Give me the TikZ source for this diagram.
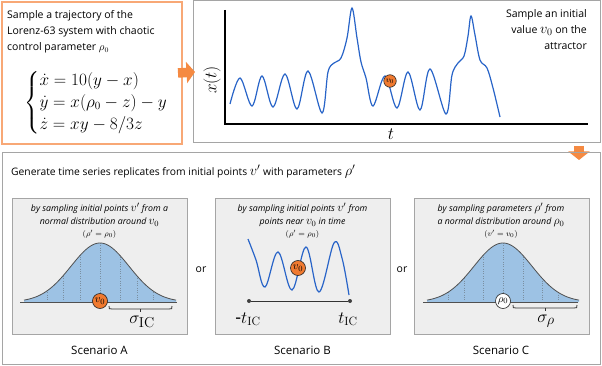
\documentclass[tikz,border=0pt]{standalone}
\usepackage{amsmath}
\usepackage[no-math]{fontspec}
\setmainfont{Open Sans}
\usetikzlibrary{arrows.meta}
\definecolor{orA}{RGB}{245,138,66}
\definecolor{orL}{RGB}{248,168,118}
\definecolor{orC}{RGB}{240,122,48}
\definecolor{blC}{RGB}{40,100,200}
\definecolor{gF}{RGB}{157,194,228}
\definecolor{gD}{RGB}{80,80,80}
\definecolor{bxG}{RGB}{165,165,165}
\definecolor{pnF}{RGB}{238,238,238}
\newcommand\mth[2]{{\fontsize{#1}{#1}\selectfont$#2$}}
\begin{document}
\begin{tikzpicture}[x=1pt,y=-1pt,
  box/.style={draw, inner sep=0pt, outer sep=0pt, anchor=north west},
  panel/.style={box, fill=pnF, draw=bxG, line width=0.9pt, minimum width=175pt, minimum height=136pt},
  bigarrow/.style={orA, line width=9.5pt, -{Triangle[width=21pt,length=8.5pt]}},
  desc/.style={font=\fontsize{8.8}{12.3}\selectfont\itshape, align=center, inner sep=0pt, anchor=north},
  cond/.style={font=\fontsize{8.5}{9}\selectfont, inner sep=0pt},
  scen/.style={font=\fontsize{11.5}{13}\selectfont, inner sep=0pt},
  ortext/.style={font=\fontsize{10.5}{12}\selectfont, inner sep=0pt},
  ball/.style={circle, draw=black!85, line width=0.6pt, fill=orC, inner sep=0pt, minimum size=15pt, font=\fontsize{11}{11}\selectfont},
  gauss/.style={draw=gD, line width=0.8pt},
  dotline/.style={draw=gD!45!gF, line width=0.35pt, dotted},
  brace/.style={draw=black!80, line width=0.8pt},
  curve/.style={draw=blC, line width=1.2pt},
  tdot/.style={circle, fill=black!75, inner sep=0pt, minimum size=4pt}
]
\fill[white] (0,0) rectangle (602,366);
\useasboundingbox (0,0) rectangle (602,366);

% ---- top left box
\node[box, draw=orL, line width=1.2pt, minimum width=180pt, minimum height=142pt] (leftbox) at (2,2) {};
\node[inner sep=0pt, anchor=north west, align=left, font=\fontsize{10.5}{16.3}\selectfont] (lefttext) at (7,10)
  {Sample a trajectory of the\\Lorenz-63 system with chaotic\\control parameter $\rho_0$};
\node[inner sep=0pt, anchor=west, font=\fontsize{16}{18.3}\selectfont] (eqs) at (24,103)
  {$\begin{cases}\dot x = 10(y-x)\\ \dot y = x(\rho_0-z)-y\\ \dot z = xy-8/3z\end{cases}$};

% ---- top right box
\node[box, draw=bxG, line width=1pt, minimum width=407pt, minimum height=142pt] (rightbox) at (193,1) {};
\node[inner sep=0pt, anchor=north east, align=right, font=\fontsize{10.5}{16}\selectfont] (righttext) at (587,9)
  {Sample an initial\\value \mth{14}{v_0} on the\\attractor};
\coordinate (yt) at (225,10);
\coordinate (org) at (225,124);
\coordinate (xr) at (588,124);
\draw[line width=1.1pt] (yt) -- (org) -- (xr);
\node[rotate=90, inner sep=0pt, font=\fontsize{16}{16}\selectfont] (xlab) at (212,80) {$x(t)$};
\node[inner sep=0pt, font=\fontsize{16}{16}\selectfont] (tlab) at (391,134) {$t$};
\draw[curve] plot[smooth, tension=0.55] coordinates {
 (230,104) (240,78) (252,106) (262,76) (273,107) (285,74) (297,109) (308,71) (322,113)
 (328,72) (334,63) (341,58) (347,38) (352,8) (357,38) (361,62) (366,78) (373,106)
 (385,76) (397,108) (408,72) (420,110) (430,69) (446,114)
 (452,75) (458,63) (464,56) (468,36) (471,16) (475,35) (480,60) (487,68) (493,88) (500,117)};
\node[ball, minimum size=12.5pt, font=\fontsize{8}{8}\selectfont] (v0top) at (390,81) {$v_0$};

% ---- arrows
\draw[bigarrow] ([xshift=-4pt]leftbox.east) -- ([xshift=2pt]rightbox.west);
\coordinate (d1) at (579,146);
\coordinate (d2) at (579,160);
\draw[bigarrow] (d1) -- (d2);

% ---- bottom box
\node[box, draw=bxG, line width=1pt, minimum width=598pt, minimum height=211pt] (botbox) at (2,153) {};
\node[inner sep=0pt, anchor=west, font=\fontsize{10.3}{12}\selectfont] (title) at (11,172)
  {Generate time series replicates from initial points \mth{14}{v'} with parameters \mth{14}{\rho'}};

\node[panel] (pA) at (12,198) {};
\node[panel] (pB) at (215,198) {};
\node[panel] (pC) at (414,198) {};

\node[ortext] (or1) at (201,270) {or};
\node[ortext] (or2) at (402,270) {or};

\node[scen] (sA) at (99.5,350) {Scenario A};
\node[scen] (sB) at (302.5,350) {Scenario B};
\node[scen] (sC) at (501,350) {Scenario C};

% ---- scenario A
\node[desc] (dA) at (99.5,203) {by sampling initial points \mth{11.5}{v'} from a\\normal distribution around \mth{11.5}{v_0}};
\node[cond] (cA) at (99.5,234) {$(\rho'=\rho_0)$};
\fill[gF] (24,302) -- plot[domain=-76:76, samples=90] ({100+\x},{302-59*exp(-(\x*\x)/1682)}) -- (176,302) -- cycle;
\foreach \d in {-53,-37,-20,0,20,37,53}
  \draw[dotline] ({100+\d},302) -- ({100+\d},{302-59*exp(-(\d*\d)/1682)});
\draw[gauss] plot[domain=-76:76, samples=90] ({100+\x},{302-59*exp(-(\x*\x)/1682)});
\coordinate (bAl) at (20,302);
\coordinate (bAr) at (177,302);
\draw[gauss] (bAl) -- (bAr);
\node[ball] (vA) at (100,301) {$v_0$};
\draw[brace] (109,306) .. controls (109,309) .. (112,309) -- (169,309) .. controls (172,309) .. (172,306);
\draw[brace] (140,309) -- (140,311.5);
\node[inner sep=0pt, font=\fontsize{19}{19}\selectfont] (sigA) at (142,322) {$\sigma_{\mathrm{IC}}$};

% ---- scenario B
\node[desc] (dB) at (302.5,203) {by sampling initial points \mth{11.5}{v'} from\\points near \mth{11.5}{v_0} in time};
\node[cond] (cB) at (302.5,234) {$(\rho'=\rho_0)$};
\draw[curve] plot[smooth, tension=0.6] coordinates {
 (248,239) (256,260) (265,287) (278,252) (292,290) (306,247) (319,292) (334,243) (342,258) (349,295)};
\node[ball] (vB) at (298,268) {$v_0$};
\node[tdot] (tl) at (249,301) {};
\node[tdot] (tr) at (350,301) {};
\draw[line width=0.9pt, black!80] (tl) -- (tr);
\node[inner sep=0pt, font=\fontsize{18}{18}\selectfont] (ltl) at (248,319) {-$t_{\mathrm{IC}}$};
\node[inner sep=0pt, font=\fontsize{18}{18}\selectfont] (ltr) at (348,319) {$t_{\mathrm{IC}}$};

% ---- scenario C
\node[desc] (dC) at (501,203) {by sampling parameters \mth{11.5}{\rho'} from\\a normal distribution around \mth{11.5}{\rho_0}};
\node[cond] (cC) at (501,234) {$(v'=v_0)$};
\fill[gF] (427,302) -- plot[domain=-76:76, samples=90] ({503+\x},{302-59*exp(-(\x*\x)/1682)}) -- (579,302) -- cycle;
\foreach \d in {-55,-39,-20,0,20,39,55}
  \draw[dotline] ({503+\d},302) -- ({503+\d},{302-59*exp(-(\d*\d)/1682)});
\draw[gauss] plot[domain=-76:76, samples=90] ({503+\x},{302-59*exp(-(\x*\x)/1682)});
\coordinate (bCl) at (423,302);
\coordinate (bCr) at (578,302);
\draw[gauss] (bCl) -- (bCr);
\node[ball, fill=white] (rC) at (503,301) {$\rho_0$};
\draw[brace] (513,305) .. controls (513,308) .. (516,308) -- (574,308) .. controls (577,308) .. (577,305);
\draw[brace] (545,308) -- (545,310.5);
\node[inner sep=0pt, font=\fontsize{19}{19}\selectfont] (sigC) at (546,321) {$\sigma_{\rho}$};
\end{tikzpicture}
\end{document}
